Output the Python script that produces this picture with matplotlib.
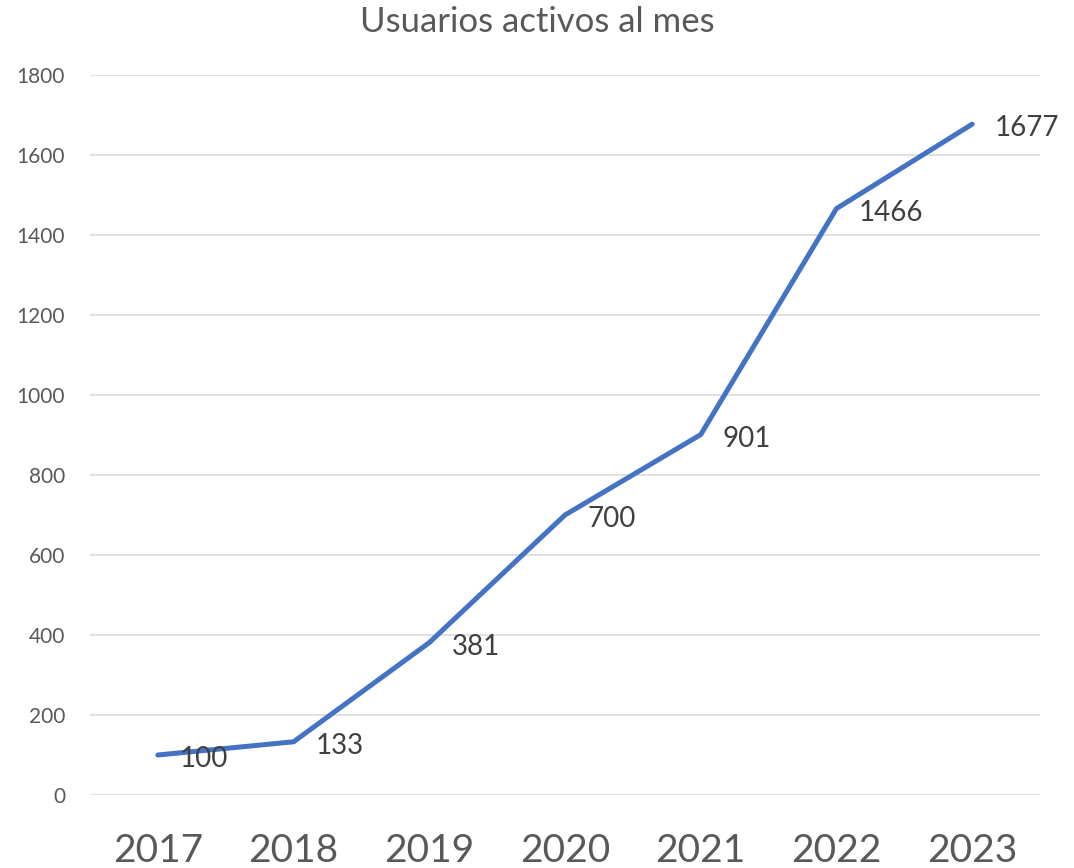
import matplotlib.pyplot as plt

years = ["2017", "2018", "2019", "2020", "2021", "2022", "2023"]
users = [100, 133, 381, 700, 901, 1466, 1677]
y_ticks = [0, 200, 400, 600, 800, 1000, 1200, 1400, 1600, 1800]

plt.rcParams['font.family'] = ['Lato', 'DejaVu Sans']

fig = plt.figure(figsize=(10.74, 8.68), dpi=100)
ax = fig.add_axes([90 / 1074, 73 / 868, 950 / 1074, 720 / 868])

x = list(range(len(years)))
ax.plot(x, users, color='#4472C4', lw=3.6, solid_capstyle='round',
        solid_joinstyle='round', zorder=3)

for xi, v in zip(x, users):
    ax.annotate(str(v), (xi, v), xytext=(16, -3), textcoords='offset points',
                ha='left', va='center', fontsize=20, color='#404040', zorder=4)

ax.set_xlim(-0.5, len(years) - 0.5)
ax.set_ylim(0, 1800)
ax.set_xticks(x)
ax.set_xticklabels(years)
ax.set_yticks(y_ticks)

ax.grid(axis='y', color='#D9D9D9', lw=1.1)
ax.set_axisbelow(True)
for s in ax.spines.values():
    s.set_visible(False)

ax.tick_params(axis='x', length=0, pad=27, labelsize=28, labelcolor='#595959')
ax.tick_params(axis='y', length=0, pad=18, labelsize=15, labelcolor='#595959')

fig.text(0.5, 0.975, "Usuarios activos al mes", ha='center', va='center',
         fontsize=25, color='#595959')

fig.savefig('out.png', dpi=100)
